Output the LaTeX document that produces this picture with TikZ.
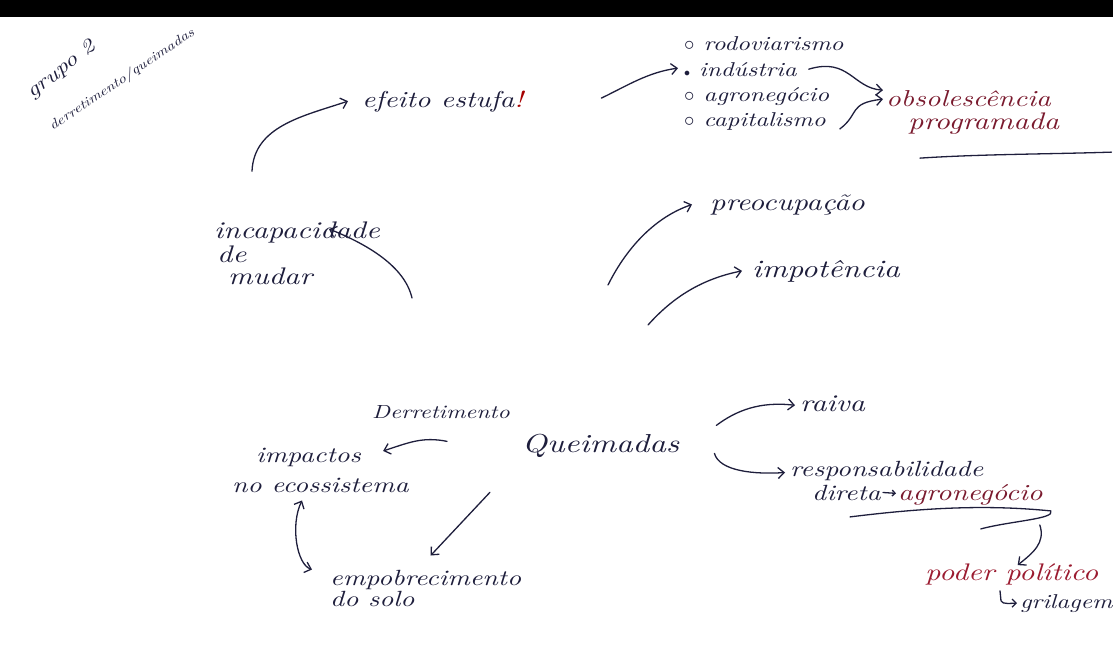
\documentclass[tikz,border=0pt]{standalone}
\usepackage{fontspec}
\usetikzlibrary{arrows.meta}
\newfontfamily\hand{lmroman10-italic}[Extension=.otf,FakeStretch=1.25]
\definecolor{inkc}{HTML}{1E1E3C}
\definecolor{darkred}{HTML}{7A1A2E}
\definecolor{brightred}{HTML}{9B1B30}
\newcommand{\fs}[1]{\hand\fontsize{#1}{#1}\selectfont}
\begin{document}
\begin{tikzpicture}[x=1pt,y=-1pt,
  ink/.style={draw=inkc, line width=1.3pt, line cap=round, line join=round},
  arr/.style={ink, -{Straight Barb[length=6pt,width=11pt]}},
  dbl/.style={ink, {Straight Barb[length=6pt,width=11pt]}-{Straight Barb[length=6pt,width=11pt]}},
  txt/.style={inner sep=0pt, anchor=base west, text=inkc, font=\fs{23}},
  redtxt/.style={txt, text=darkred}]
\useasboundingbox (0,0) rectangle (1113,645);

% rotated header
\node[txt, anchor=center, rotate=38, font=\fs{20}] (grupo) at (62,70) {grupo 2};
\node[txt, anchor=center, rotate=34, font=\fs{13}] (tema) at (122,80) {derretimento/queimadas};

% nodes
\node[txt] (efeito) at (362,107) {efeito estufa\textcolor{red!65!black}{!}};
\node[txt, font=\fs{20}] (l1) at (684,50) {$\circ$ rodoviarismo};
\node[txt, font=\fs{20}] (l2) at (684,76) {{\fontsize{12}{12}\selectfont$\bullet$} indústria};
\node[txt, font=\fs{20}] (l3) at (684,101) {$\circ$ agronegócio};
\node[txt, font=\fs{20}] (l4) at (684,126) {$\circ$ capitalismo};
\node[redtxt] (obs1) at (886,106) {obsolescência};
\node[redtxt, font=\fs{24}] (obs2) at (908,129) {programada};

\node[txt, font=\fs{24}] (incap1) at (214,238) {incapacidade};
\node[txt, font=\fs{24}] (incap2) at (217,262) {de};
\node[txt, font=\fs{24}] (incap3) at (228,284) {mudar};

\node[txt, font=\fs{24}] (preoc) at (710,210) {preocupação};
\node[txt, font=\fs{25}] (impot) at (752,277) {impotência};

\node[txt, font=\fs{19}] (derret) at (372,418) {Derretimento};
\node[txt, font=\fs{26}] (queim) at (522,452) {Queimadas};

\node[txt, font=\fs{22}] (imp1) at (256,462) {impactos};
\node[txt, font=\fs{22}] (imp2) at (232,492) {no ecossistema};
\node[txt, font=\fs{22}] (emp1) at (330,585) {empobrecimento};
\node[txt, font=\fs{22}] (emp2) at (330,606) {do solo};

\node[txt, font=\fs{24}] (raiva) at (800,411) {raiva};
\node[txt, font=\fs{22}] (resp1) at (790,476) {responsabilidade};
\node[txt, font=\fs{22}] (resp2) at (812,500) {direta};
\node[redtxt, font=\fs{23}] (agro) at (898,500) {agronegócio};
\node[txt, text=brightred, font=\fs{24}] (poder) at (925,580) {poder político};
\node[txt, font=\fs{20}] (gril) at (1020,608) {grilagem};

\coordinate (c1) at (412,298);
\coordinate (c2) at (608,285);
\coordinate (c3) at (648,325);

% connectors
\draw[arr] ([shift={(38,-50)}]incap1.north west) .. controls +(2,-45) and +(-45,15) .. ([xshift=-14]efeito.west);
\draw[arr] ([shift={(78,-3)}]efeito.east) .. controls +(25,-12) and +(-30,4) .. ([shift={(-6,-1)}]l2.west);
\draw[arr] ([xshift=12]l2.east) .. controls +(40,-12) and +(-30,-2) .. ([shift={(-3,-8)}]obs1.west);
\draw[arr] ([shift={(14,8)}]l4.east) .. controls +(20,-15) and +(-35,4) .. ([shift={(-3,1)}]obs1.west);
\draw[ink] ([shift={(12,24)}]obs2.south west) .. controls +(60,-4) and +(-60,2) .. ([shift={(52,18)}]obs2.south east);

\draw[arr] (c1) .. controls +(-8,-35) and +(30,12) .. ([shift={(-51,-3)}]incap1.east);
\draw[arr] (c2) .. controls +(20,-40) and +(-35,12) .. ([xshift=-18]preoc.west);
\draw[arr] (c3) .. controls +(25,-28) and +(-40,8) .. ([xshift=-10]impot.west);

\draw[arr] ([shift={(-75,-4)}]queim.west) .. controls +(-25,-5) and +(25,-8) .. ([shift={(22,-6)}]imp1.east);
\draw[dbl] ([shift={(70,8)}]imp2.south west) .. controls +(-12,25) and +(-15,-5) .. ([shift={(-18,-10)}]emp1.west);
\draw[arr] ([shift={(-32,35)}]queim.south west) -- ([shift={(5,-14)}]emp1.north);
\draw[arr] ([shift={(37,-20)}]queim.east) .. controls +(20,-15) and +(-35,-4) .. ([shift={(-5,2)}]raiva.west);
\draw[arr] ([shift={(35,8)}]queim.east) .. controls +(5,18) and +(-30,2) .. ([shift={(-5,2)}]resp1.west);
\draw[ink, -{Straight Barb[length=3pt,width=6pt]}] ([xshift=2]resp2.east) -- ([shift={(-2,-1)}]agro.west);
\draw[ink] ([shift={(-48,12)}]agro.south west) .. controls +(80,-10) and +(-60,-6) .. ([shift={(8,6)}]agro.south east) .. controls +(5,8) and +(30,-8) .. ([shift={(-62,24)}]agro.south east);
\draw[arr] ([shift={(-3,20)}]agro.south east) .. controls +(6,18) and +(15,-12) .. ([shift={(6,2)}]poder.north);
\draw[ink, -{Straight Barb[length=4pt,width=8pt]}] ([shift={(75,6)}]poder.south west) -- +(1,10) .. controls +(1,4) and +(-4,0) .. ([shift={(-3,0)}]gril.west);

\fill[black] (0,0) rectangle (1113,17);
\end{tikzpicture}
\end{document}
